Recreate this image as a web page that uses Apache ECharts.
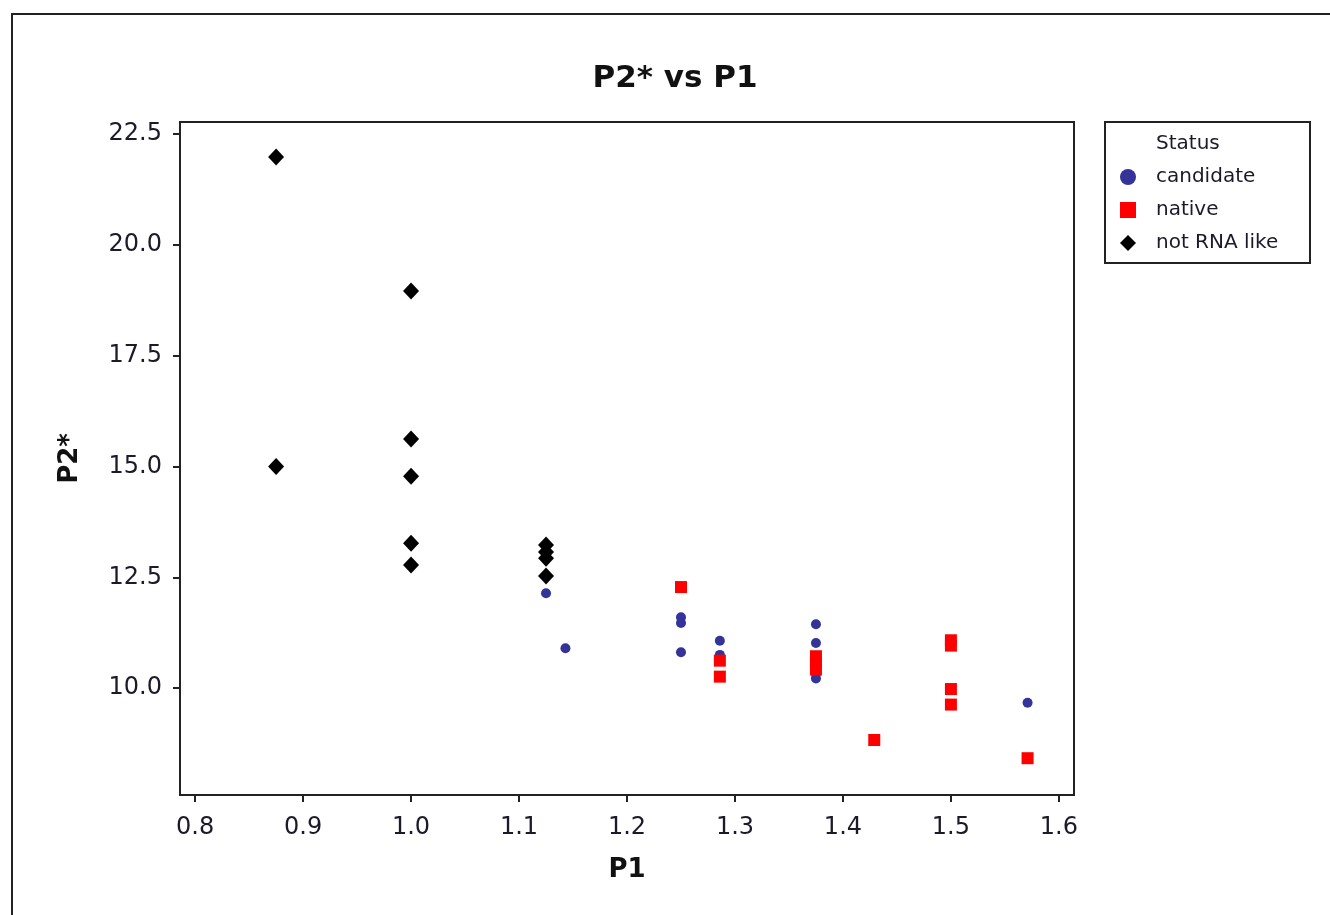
<!DOCTYPE html>
<html>
<head>
<meta charset="utf-8">
<script src="https://cdn.jsdelivr.net/npm/echarts@6/dist/echarts.min.js"></script>
<style>
html,body{margin:0;padding:0;background:#fff;}
#chart{width:1330px;height:915px;}
</style>
</head>
<body>
<div id="chart"></div>
<script>
const seriesNames = ['candidate', 'native', 'not RNA like'];
const candidateData = [[1.125,12.14],[1.143,10.9],[1.25,11.6],[1.25,11.47],[1.25,10.81],[1.286,11.07],[1.286,10.75],[1.375,11.44],[1.375,11.02],[1.375,10.33],[1.375,10.22],[1.571,9.67]];
const nativeData = [[1.25,12.28],[1.286,10.62],[1.286,10.26],[1.375,10.72],[1.375,10.58],[1.375,10.42],[1.429,8.83],[1.5,11.08],[1.5,10.96],[1.5,9.98],[1.5,9.63],[1.571,8.42]];
const notRnaData = [[0.875,21.98],[0.875,15.0],[1.0,18.96],[1.0,15.62],[1.0,14.78],[1.0,13.27],[1.0,12.78],[1.125,13.23],[1.125,13.07],[1.125,12.93],[1.125,12.53]];
const xTicks = [0.8,0.9,1.0,1.1,1.2,1.3,1.4,1.5,1.6];
const yTicks = [10.0,12.5,15.0,17.5,20.0,22.5];

const FONT = 'DejaVu Sans';
const TXT = '#1a1a2a';
const chart = echarts.init(document.getElementById('chart'), null, {renderer:'canvas'});
chart.setOption({
  animation:false,
  backgroundColor:'#fff',
  textStyle:{fontFamily:FONT},
  title:[
    {text:'P2* vs P1', left:670, top:58, textAlign:'center',
     textStyle:{fontFamily:FONT, fontSize:31, fontWeight:'bold', color:'#111'}},
    {text:'Status', left:1151, top:129,
     textStyle:{fontFamily:FONT, fontSize:20, fontWeight:'normal', color:TXT}}
  ],
  graphic:[
    {type:'rect', shape:{x:12,y:14,width:1330,height:915}, style:{fill:'none', stroke:'#222', lineWidth:2}, silent:true},
    {type:'rect', shape:{x:1105,y:122,width:205,height:141}, style:{fill:'none', stroke:'#222', lineWidth:2}, silent:true}
  ],
  legend:{
    orient:'vertical', left:1115, top:162, itemGap:13, itemWidth:16, itemHeight:16,
    data:[
      {name:'candidate', icon:'circle', itemStyle:{opacity:1}},
      {name:'native', icon:'rect', itemStyle:{opacity:1}},
      {name:'not RNA like', icon:'diamond', itemStyle:{opacity:1}}
    ],
    textStyle:{fontFamily:FONT, fontSize:20, color:TXT, padding:[0,0,0,15]}
  },
  grid:{left:180, top:122, right:256, bottom:120, show:true, borderColor:'#222', borderWidth:2, backgroundColor:'#fff'},
  xAxis:{
    type:'value', min:0.786, max:1.614,
    name:'P1', nameLocation:'middle', nameGap:62,
    nameTextStyle:{fontFamily:FONT, fontSize:26, fontWeight:'bold', color:'#111'},
    axisLine:{show:true, onZero:false, lineStyle:{color:'#222', width:2}},
    axisTick:{show:true, length:7, lineStyle:{color:'#222', width:2}, customValues:xTicks},
    axisLabel:{customValues:xTicks, formatter:v=>v.toFixed(1), fontFamily:FONT, fontSize:24, color:TXT, margin:21},
    splitLine:{show:false}
  },
  yAxis:{
    type:'value', min:7.59, max:22.77,
    name:'P2*', nameLocation:'middle', nameGap:97, nameRotate:90,
    nameTextStyle:{fontFamily:FONT, fontSize:26, fontWeight:'bold', color:'#111'},
    axisLine:{show:true, onZero:false, lineStyle:{color:'#222', width:2}},
    axisTick:{show:true, length:7, lineStyle:{color:'#222', width:2}, customValues:yTicks},
    axisLabel:{customValues:yTicks, formatter:v=>v.toFixed(1), fontFamily:FONT, fontSize:24, color:TXT, margin:18},
    splitLine:{show:false}
  },
  series:[
    {name:'candidate', type:'scatter', data:candidateData, symbol:'circle', symbolSize:10, itemStyle:{color:'#333399', opacity:1}},
    {name:'native', type:'scatter', data:nativeData, symbol:'rect', symbolSize:12, itemStyle:{color:'#ff0000', opacity:1}},
    {name:'not RNA like', type:'scatter', data:notRnaData, symbol:'diamond', symbolSize:[16,17], itemStyle:{color:'#000', opacity:1}}
  ]
});
</script>
</body>
</html>
